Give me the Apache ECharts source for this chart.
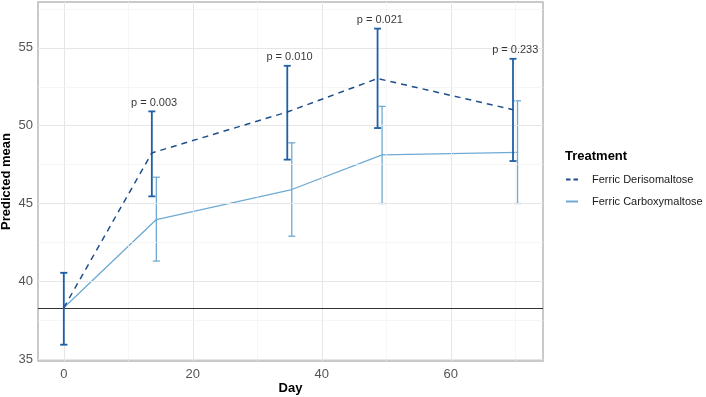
<!DOCTYPE html>
<html>
<head>
<meta charset="utf-8">
<script src="https://cdn.jsdelivr.net/npm/echarts@6/dist/echarts.min.js"></script>
<style>
  html, body { margin: 0; padding: 0; background: #fff; }
  #chart { width: 706px; height: 397px; }
</style>
</head>
<body>
<div id="chart"></div>
<script>
var days = [0, 14, 35, 49, 70];
var dodge = [0, 0.35, 0.35, 0.35, 0.35];

var fdMean = [38.3, 48.25, 50.88, 53.03, 51.03];
var fdLow = [35.93, 45.46, 47.82, 49.85, 47.73];
var fdHigh = [40.55, 50.92, 53.85, 56.24, 54.3];

var fcmMean = [38.3, 43.97, 45.9, 48.12, 48.29];
var fcmLow = [35.93, 41.3, 42.9, 45.0, 45.0];
var fcmHigh = [40.55, 46.69, 48.9, 51.24, 51.6];

var pLabels = ['', 'p = 0.003', 'p = 0.010', 'p = 0.021', 'p = 0.233'];
var baseline = 38.28;

var xTicks = [0, 20, 40, 60];
var xMinor = [10, 30, 50, 70];
var yTicks = [35, 40, 45, 50, 55];
var yMinor = [37.5, 42.5, 47.5, 52.5, 57.5];

var darkBlue = '#1f5fa6';
var lightBlue = '#6eaad3';
var fontFam = '"Liberation Sans", Arial, sans-serif';

var chart = echarts.init(document.getElementById('chart'));

function pts(mean, sign) {
  return days.map(function (d, i) { return [d + sign * dodge[i], mean[i]]; });
}
function bars(low, high, sign) {
  return days.map(function (d, i) { return [d + sign * dodge[i], low[i], high[i]]; });
}
function errorBar(color, width) {
  return function (params, api) {
    var x = api.value(0);
    var lo = api.coord([x, api.value(1)]);
    var hi = api.coord([x, api.value(2)]);
    var cap = 3.5;
    var style = { stroke: color, lineWidth: width };
    return {
      type: 'group',
      children: [
        { type: 'line', shape: { x1: lo[0], y1: lo[1], x2: hi[0], y2: hi[1] }, style: style },
        { type: 'line', shape: { x1: lo[0] - cap, y1: lo[1], x2: lo[0] + cap, y2: lo[1] }, style: style },
        { type: 'line', shape: { x1: hi[0] - cap, y1: hi[1], x2: hi[0] + cap, y2: hi[1] }, style: style }
      ]
    };
  };
}

var gridLines = [];
xTicks.forEach(function (v) { gridLines.push({ xAxis: v, lineStyle: { color: '#e6e6e6', width: 1, type: 'solid' } }); });
xMinor.forEach(function (v) { gridLines.push({ xAxis: v, lineStyle: { color: '#f2f2f2', width: 0.7, type: 'solid' } }); });
yTicks.forEach(function (v) { gridLines.push({ yAxis: v, lineStyle: { color: '#e6e6e6', width: 1, type: 'solid' } }); });
yMinor.forEach(function (v) { gridLines.push({ yAxis: v, lineStyle: { color: '#f2f2f2', width: 0.7, type: 'solid' } }); });

var option = {
  animation: false,
  textStyle: { fontFamily: fontFam },
  grid: {
    left: 38, right: 163, top: 2, bottom: 36,
    containLabel: false, outerBoundsMode: 'none',
    show: true, borderColor: '#b8b8b8', borderWidth: 1.5, backgroundColor: '#fff'
  },
  title: {
    text: 'Treatment',
    left: 565, top: 150,
    padding: 0,
    textStyle: { fontSize: 13, fontWeight: 'bold', color: '#000', fontFamily: fontFam }
  },
  graphic: [
    {
      type: 'text', x: 6, y: 181.5, rotation: Math.PI / 2,
      style: { text: 'Predicted mean', fontSize: 13, fontWeight: 'bold', fill: '#000', fontFamily: fontFam, align: 'center', verticalAlign: 'middle' }
    },
    {
      type: 'text', x: 290.5, y: 388,
      style: { text: 'Day', fontSize: 13, fontWeight: 'bold', fill: '#000', fontFamily: fontFam, align: 'center', verticalAlign: 'middle' }
    }
  ],
  legend: {
    orient: 'vertical',
    left: 566, top: 174,
    padding: 0,
    itemWidth: 12, itemHeight: 2, itemGap: 11,
    textStyle: { fontSize: 11, color: '#1a1a1a', fontFamily: fontFam, padding: [0, 0, 0, 9] },
    data: [
      { name: 'Ferric Derisomaltose', icon: 'path://M0,0h4.5v2h-4.5z M7.5,0h4.5v2h-4.5z' },
      { name: 'Ferric Carboxymaltose', icon: 'path://M0,0h12v2h-12z' }
    ]
  },
  xAxis: {
    type: 'value', min: -4, max: 74.3,
    axisLine: { show: false }, axisTick: { show: false },
    splitLine: { show: false },
    axisLabel: { customValues: xTicks, fontSize: 13, color: '#555', margin: 7 }
  },
  yAxis: {
    type: 'value', min: 34.88, max: 57.95,
    axisLine: { show: false }, axisTick: { show: false },
    splitLine: { show: false },
    axisLabel: { customValues: yTicks, fontSize: 13, color: '#555', margin: 5 }
  },
  series: [
    {
      type: 'line', name: 'grid', data: [], silent: true,
      markLine: { silent: true, symbol: 'none', label: { show: false }, data: gridLines, animation: false }
    },
    {
      type: 'line', name: 'baseline', data: [], silent: true,
      markLine: {
        silent: true, symbol: 'none', label: { show: false },
        data: [{ yAxis: baseline, lineStyle: { color: '#333', width: 1, type: 'solid' } }]
      }
    },
    {
      type: 'custom', name: 'fcmBars', z: 3,
      renderItem: errorBar(lightBlue, 1.3),
      data: bars(fcmLow, fcmHigh, 1)
    },
    {
      type: 'line', name: 'Ferric Carboxymaltose', z: 4,
      data: pts(fcmMean, 1), symbol: 'none', color: lightBlue,
      lineStyle: { color: lightBlue, width: 1.3 }
    },
    {
      type: 'custom', name: 'fdBars', z: 5,
      renderItem: errorBar(darkBlue, 1.8),
      data: bars(fdLow, fdHigh, -1)
    },
    {
      type: 'line', name: 'Ferric Derisomaltose', z: 6,
      data: pts(fdMean, -1), symbol: 'none', color: '#1e4f8c',
      lineStyle: { color: '#1e4f8c', width: 1.5, type: [6, 5] }
    },
    {
      type: 'scatter', name: 'pvals', z: 7, silent: true,
      symbolSize: 0,
      data: days.map(function (d, i) { return [d, fdHigh[i], pLabels[i]]; }),
      label: {
        show: true, position: 'top', distance: 3,
        formatter: function (p) { return p.value[2]; },
        fontSize: 11, color: '#000'
      }
    }
  ]
};

chart.setOption(option);
</script>
</body>
</html>
